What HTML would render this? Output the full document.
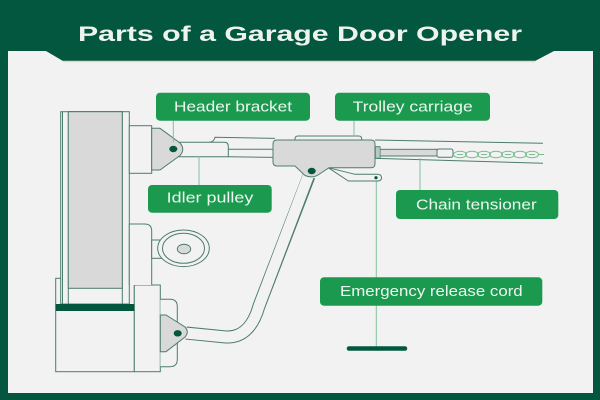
<!DOCTYPE html>
<html>
<head>
<meta charset="utf-8">
<style>
  html, body { margin: 0; padding: 0; background: #03573f; }
  svg { display: block; }
  text { font-family: "Liberation Sans", sans-serif; }
</style>
</head>
<body>
<svg width="600" height="400" viewBox="0 0 600 400" xmlns="http://www.w3.org/2000/svg">
  <!-- background -->
  <rect x="0" y="0" width="600" height="400" fill="#03573f"/>
  <!-- panel -->
  <rect x="8" y="51" width="585" height="342" fill="#f2f2f2"/>
  <!-- title trapezoid -->
  <polygon points="46,51 554,51 535,61 63,61" fill="#03573f"/>
  <line x1="63" y1="61.5" x2="535" y2="61.5" stroke="#e4d9bf" stroke-width="1.5"/>
  <text x="78" y="41" font-size="21.5" font-weight="bold" fill="#eef3ee" textLength="444" lengthAdjust="spacingAndGlyphs">Parts of a Garage Door Opener</text>

  <g stroke="#4d7d6b" stroke-width="1" fill="#f2f2f2">
    <!-- lower housing -->
    <rect x="55.7" y="278.3" width="78.6" height="93.4"/>
    <!-- track -->
    <rect x="60.7" y="111.7" width="68.6" height="192.3"/>
    <line x1="62.5" y1="111.7" x2="62.5" y2="304"/>
    <rect x="68.3" y="111.7" width="54" height="192.3"/>
    <rect x="68.3" y="111.7" width="54" height="176.6" fill="#d9d9d9"/>
    <!-- right box lower -->
    <rect x="134.3" y="285" width="26" height="86.7"/>
    <!-- middle box -->
    <path d="M129.3,285 V224 H144.7 Q151.7,224 151.7,231 V285"/>
    <!-- pulley connector -->
    <rect x="151.7" y="240" width="10" height="18.3"/>
    <!-- pulley -->
    <ellipse cx="183.5" cy="248.3" rx="25.8" ry="18.3"/>
    <ellipse cx="183.5" cy="248.3" rx="21" ry="15"/>
    <ellipse cx="184" cy="249" rx="6.7" ry="4.8" fill="#d9d9d9"/>
    <!-- upper box -->
    <rect x="129.3" y="125.7" width="22.4" height="47.6"/>
  </g>
  <!-- dark bar -->
  <rect x="55.7" y="304" width="78.6" height="7" fill="#03573f"/>

  <!-- rail left of trolley -->
  <g stroke="#4d7d6b" stroke-width="1" fill="none">
    <path d="M209,142.3 Q214,142 215,137.3 L275,138.4"/>
    <line x1="228.3" y1="149.3" x2="275" y2="149.3"/>
    <line x1="228.3" y1="156.7" x2="275" y2="157.4"/>
    <!-- rail right of trolley -->
    <line x1="375" y1="140" x2="543" y2="143.3"/>
    <line x1="375" y1="158.3" x2="543" y2="163.3"/>
  </g>
  <!-- header rail bar -->
  <path d="M175,142.3 H224.3 Q228.3,142.3 228.3,146.3 V156.7 H175 Z" fill="#f2f2f2" stroke="#4d7d6b" stroke-width="1"/>

  <!-- rod, tensioner, chain -->
  <rect x="380" y="149.3" width="57" height="6.7" fill="#d9d9d9" stroke="#4d7d6b" stroke-width="1"/>
  <rect x="437" y="149" width="16" height="8.3" rx="2" fill="#f2f2f2" stroke="#4d7d6b" stroke-width="1"/>
  <g fill="none" stroke="#79bd92" stroke-width="1">
    <ellipse cx="460" cy="154.5" rx="6.5" ry="3.3"/>
    <ellipse cx="472" cy="154.5" rx="6.5" ry="3.3"/>
    <ellipse cx="484" cy="154.5" rx="6.5" ry="3.3"/>
    <ellipse cx="496" cy="154.5" rx="6.5" ry="3.3"/>
    <ellipse cx="508" cy="154.5" rx="6.5" ry="3.3"/>
    <ellipse cx="520" cy="154.5" rx="6.5" ry="3.3"/>
    <ellipse cx="532" cy="154.5" rx="6.5" ry="3.3"/>
    <line x1="538" y1="154.5" x2="544" y2="154.5"/>
    <line x1="457" y1="154.5" x2="463" y2="154.5"/>
    <line x1="481" y1="154.5" x2="487" y2="154.5"/>
    <line x1="505" y1="154.5" x2="511" y2="154.5"/>
    <line x1="529" y1="154.5" x2="535" y2="154.5"/>
  </g>

  <!-- emergency cord line -->
  <line x1="376.3" y1="178" x2="376.3" y2="348" stroke="#86bfa0" stroke-width="1"/>

  <!-- arm -->
  <path d="M309,176 L259,306 Q250,338 226,337 L186,333" fill="none" stroke="#4d7d6b" stroke-width="13" stroke-linejoin="round"/>
  <path d="M309,174 L259,306 Q250,338 226,337 L185,333" fill="none" stroke="#f2f2f2" stroke-width="11" stroke-linejoin="round"/>

  <!-- lower outer bracket -->
  <path d="M160.3,299.3 H170 Q177.3,299.3 177.3,306.6 V359.4 Q177.3,366.7 170,366.7 H160.3" fill="#f2f2f2" stroke="#4d7d6b" stroke-width="1"/>
  <!-- lower gray bracket -->
  <path d="M160.3,315 L166,315 L185,327 Q189.5,332 185,337 L166,351.7 L160.3,351.7 Z" fill="#d9d9d9" stroke="#4d7d6b" stroke-width="1"/>
  <ellipse cx="177.7" cy="333.3" rx="4" ry="3.2" fill="#03573f"/>

  <!-- header gray bracket -->
  <path d="M151.7,128.3 L160,128.3 L180,143 Q185.5,149.3 180,155.5 L160,170 L151.7,170 Z" fill="#d9d9d9" stroke="#4d7d6b" stroke-width="1"/>
  <ellipse cx="173.3" cy="149" rx="4" ry="3.2" fill="#03573f"/>

  <!-- trolley hook -->
  <path d="M328.3,167.7 L355,174.3 L377,174.3 Q381.5,174.3 381.5,177.7 Q381.5,181 377,181 L348.3,181 Z" fill="#f2f2f2" stroke="#4d7d6b" stroke-width="1" stroke-linejoin="round"/>
  <circle cx="376" cy="177.7" r="1.6" fill="#03573f"/>
  <!-- trolley top cap -->
  <path d="M295,141 V139 Q295,136 298,136 H358.7 Q361.7,136 361.7,139 V141" fill="#f2f2f2" stroke="#4d7d6b" stroke-width="1"/>
  <!-- knurled connector -->
  <rect x="374" y="146.7" width="6" height="11.6" fill="#f2f2f2" stroke="#4d7d6b" stroke-width="1"/>
  <line x1="376" y1="146.7" x2="376" y2="158.3" stroke="#4d7d6b" stroke-width="0.7"/>
  <line x1="378" y1="146.7" x2="378" y2="158.3" stroke="#4d7d6b" stroke-width="0.7"/>
  <!-- trolley body -->
  <path d="M277,140 H371 Q375,140 375,144 V163.7 Q375,167.7 371,167.7 H329 L318,175 Q312,178.5 305,175.5 L295,166 H277 Q273,166 273,162 V144 Q273,140 277,140 Z" fill="#d9d9d9" stroke="#4d7d6b" stroke-width="1"/>
  <ellipse cx="311.7" cy="171" rx="4" ry="3.2" fill="#03573f"/>

  <!-- leader lines -->
  <g stroke="#86bfa0" stroke-width="1">
    <line x1="173.3" y1="120.7" x2="173.3" y2="142.3"/>
    <line x1="354" y1="120.7" x2="354" y2="136"/>
    <line x1="199" y1="156.7" x2="199" y2="185"/>
    <line x1="420" y1="158" x2="420" y2="190"/>
  </g>

  <!-- handle -->
  <line x1="349" y1="348.5" x2="405" y2="348.5" stroke="#03573f" stroke-width="4.5" stroke-linecap="round"/>

  <!-- labels -->
  <g fill="#1b9a4f">
    <rect x="156" y="92.7" width="154" height="28" rx="4"/>
    <rect x="335" y="92.7" width="155" height="28" rx="4"/>
    <rect x="148" y="185" width="123.7" height="27.7" rx="4"/>
    <rect x="396" y="190" width="162.3" height="29" rx="4"/>
    <rect x="320" y="277.3" width="222.3" height="28.4" rx="4"/>
  </g>
  <g fill="#eef6f0" font-size="14.5">
    <text x="174" y="111.4" textLength="118" lengthAdjust="spacingAndGlyphs">Header bracket</text>
    <text x="352.7" y="111.4" textLength="120" lengthAdjust="spacingAndGlyphs">Trolley carriage</text>
    <text x="166.7" y="202.6" textLength="86.6" lengthAdjust="spacingAndGlyphs">Idler pulley</text>
    <text x="416" y="209.3" textLength="120.7" lengthAdjust="spacingAndGlyphs">Chain tensioner</text>
    <text x="340" y="295.8" textLength="182.7" lengthAdjust="spacingAndGlyphs">Emergency release cord</text>
  </g>
</svg>
</body>
</html>
